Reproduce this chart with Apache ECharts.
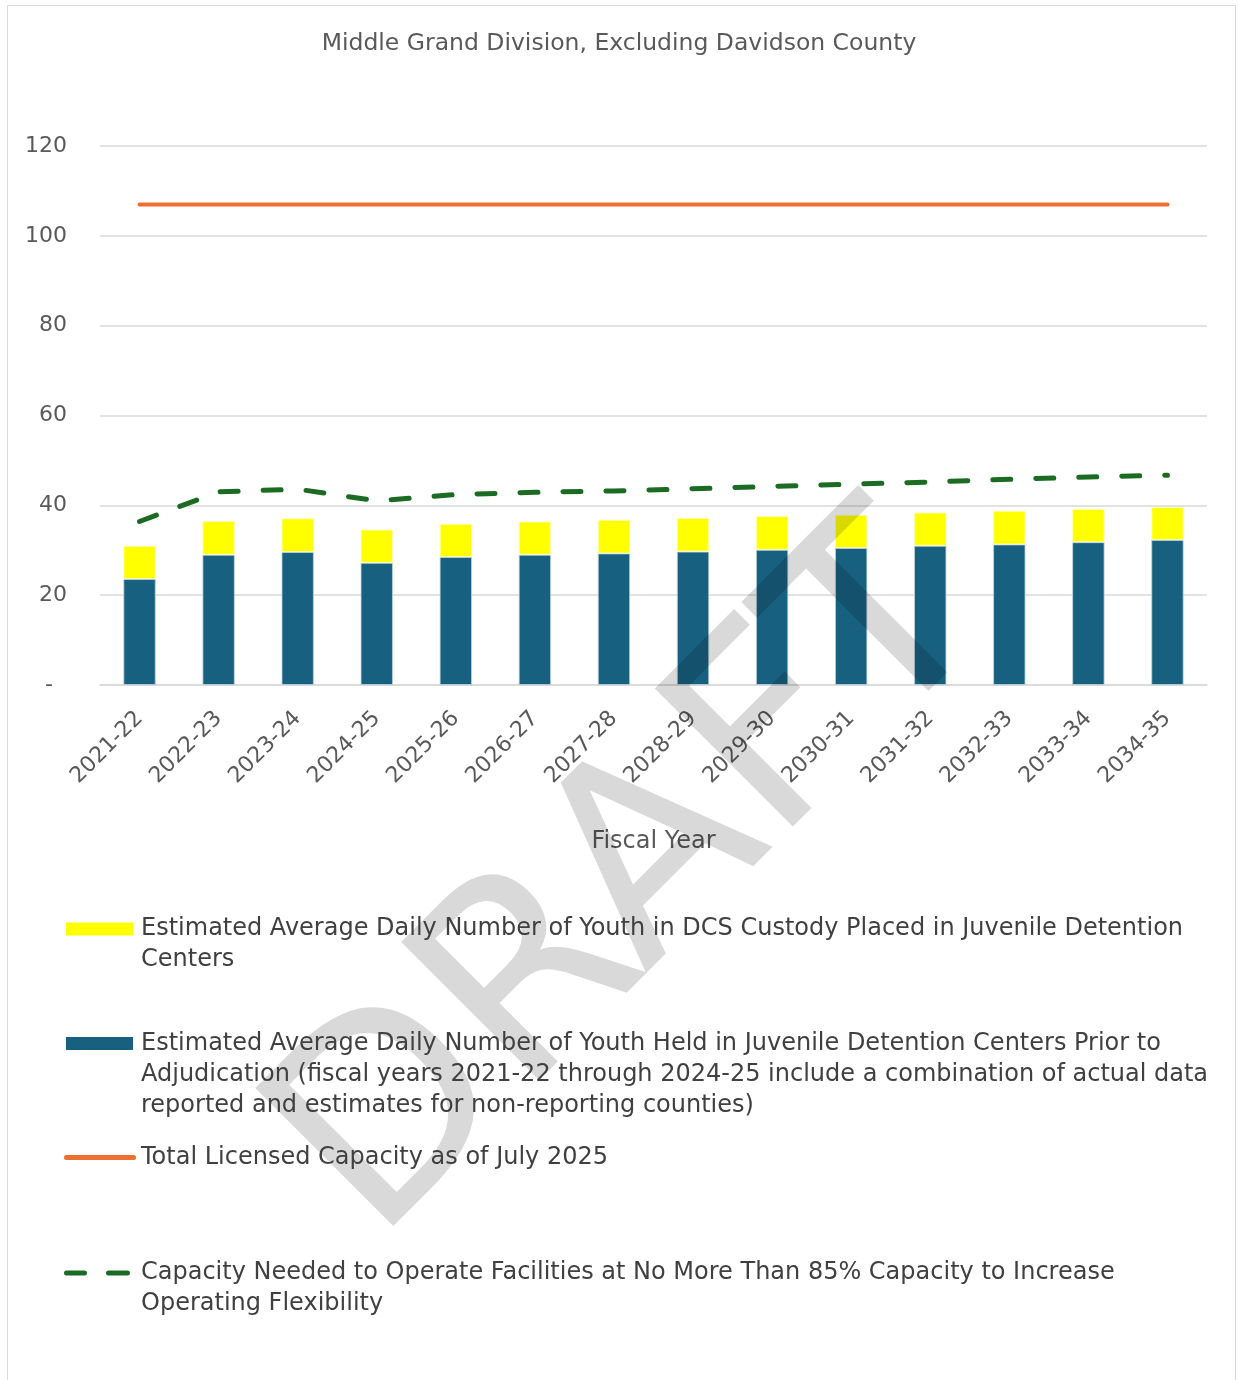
<!DOCTYPE html>
<html>
<head>
<meta charset="utf-8">
<script src="https://cdn.jsdelivr.net/npm/echarts@6/dist/echarts.min.js"></script>
<style>
  html, body { margin: 0; padding: 0; background: #fff; }
  #frame { position: absolute; left: 7px; top: 5px; width: 1229px; height: 1380px; border: 1px solid #d9d9d9; box-sizing: border-box; }
  #chart { position: absolute; left: 0; top: 0; width: 1238px; height: 1380px; }
</style>
</head>
<body>
<div id="frame"></div>
<div id="chart"></div>
<script>
const titleText = 'Middle Grand Division, Excluding Davidson County';
const categories = ['2021-22','2022-23','2023-24','2024-25','2025-26','2026-27','2027-28','2028-29','2029-30','2030-31','2031-32','2032-33','2033-34','2034-35'];
const preAdjudication = [23.6, 29.0, 29.6, 27.2, 28.5, 29.0, 29.3, 29.7, 30.1, 30.5, 31.0, 31.3, 31.8, 32.3];
const dcsCustody = [7.4, 7.5, 7.5, 7.4, 7.4, 7.4, 7.5, 7.5, 7.5, 7.4, 7.4, 7.5, 7.4, 7.3];
const licensedCapacity = [107, 107, 107, 107, 107, 107, 107, 107, 107, 107, 107, 107, 107, 107];
const capacityNeeded85 = [36.4, 43.0, 43.6, 41.0, 42.4, 42.9, 43.2, 43.7, 44.2, 44.7, 45.2, 45.8, 46.3, 46.7];
const yTicks = { min: 0, max: 120, interval: 20 };

const nameDCS = 'Estimated Average Daily Number of Youth in DCS Custody Placed in Juvenile Detention\nCenters';
const namePre = 'Estimated Average Daily Number of Youth Held in Juvenile Detention Centers Prior to\nAdjudication (fiscal years 2021-22 through 2024-25 include a combination of actual data\nreported and estimates for non-reporting counties)';
const nameCap = 'Total Licensed Capacity as of July 2025';
const name85 = 'Capacity Needed to Operate Facilities at No More Than 85% Capacity to Increase\nOperating Flexibility';

const FONT = 'DejaVu Sans';
const textColor = '#595959';
const LH = 31;

const dashIcon = 'path://M2.5,0H20.5A2.5,2.5 0 0 1 20.5,5H2.5A2.5,2.5 0 0 1 2.5,0Z' +
  'M44.5,0H63.5A2.5,2.5 0 0 1 63.5,5H44.5A2.5,2.5 0 0 1 44.5,0Z' +
  'M71.95,0H72V5H71.95Z';
const solidIcon = 'path://M2.5,0H69.5A2.5,2.5 0 0 1 69.5,5H2.5A2.5,2.5 0 0 1 2.5,0Z';

function legendAt(name, left, top, lines, w, h, icon, padLeft) {
  return {
    data: [name],
    left: left,
    top: top,
    orient: 'vertical',
    itemWidth: w,
    itemHeight: h,
    itemGap: 0,
    icon: icon,
    selectedMode: false,
    itemStyle: { borderWidth: 0 },
    formatter: function (n) { return '\n'.repeat(lines - 1) + n; },
    textStyle: { fontFamily: FONT, fontSize: 24, color: '#404040', lineHeight: LH, padding: [0, 0, 0, padLeft] }
  };
}

const chart = echarts.init(document.getElementById('chart'), null, { renderer: 'canvas' });
chart.setOption({
  animation: false,
  backgroundColor: 'transparent',
  title: {
    text: titleText, left: 'center', top: 27,
    textStyle: { fontFamily: FONT, fontSize: 23.5, fontWeight: 'normal', color: textColor }
  },
  grid: { left: 100, right: 31, top: 146, bottom: 695 },
  legend: [
    legendAt(nameDCS, 61, 912 - LH / 2 - 19, 2, 67, 13, 'rect', 3),
    legendAt(namePre, 61, 1027 - LH - 35, 3, 67, 13, 'rect', 3),
    legendAt(nameCap, 59, 1137, 1, 72, 5, solidIcon, 0),
    legendAt(name85, 59, 1256 - LH / 2 - 19, 2, 72, 5, dashIcon, 0)
  ],
  xAxis: {
    type: 'category',
    data: categories,
    name: 'Fiscal Year',
    nameLocation: 'middle',
    nameGap: 145,
    nameTextStyle: { fontFamily: FONT, fontSize: 24, color: textColor },
    axisLine: { lineStyle: { color: '#d9d9d9', width: 1.5 } },
    axisTick: { show: false },
    axisLabel: { rotate: 45, margin: 30, fontFamily: FONT, fontSize: 22, color: textColor, interval: 0 }
  },
  yAxis: {
    type: 'value',
    min: yTicks.min, max: yTicks.max, interval: yTicks.interval,
    axisLine: { show: false },
    axisTick: { show: false },
    splitLine: { lineStyle: { color: '#d9d9d9', width: 1.5 } },
    axisLabel: {
      margin: 33, fontFamily: FONT, fontSize: 22, color: textColor,
      formatter: function (v) { return v === 0 ? '-  ' : String(v); }
    }
  },
  series: [
    {
      name: namePre, type: 'bar', stack: 'total', data: preAdjudication, barWidth: '41%',
      itemStyle: { color: '#17607f', borderColor: 'rgba(190,210,220,0.8)', borderWidth: 1 }
    },
    {
      name: nameDCS, type: 'bar', stack: 'total', data: dcsCustody, barWidth: '41%',
      itemStyle: { color: '#ffff00', borderColor: 'rgba(255,255,180,0.9)', borderWidth: 1 }
    },
    {
      name: nameCap, type: 'line', data: licensedCapacity, symbol: 'none', showSymbol: false,
      lineStyle: { color: '#ed7031', width: 4, cap: 'round' },
      itemStyle: { color: '#ed7031' }
    },
    {
      name: name85, type: 'line', data: capacityNeeded85, symbol: 'none', showSymbol: false,
      lineStyle: { color: '#1b6b23', width: 5, type: [18, 25], cap: 'round' },
      itemStyle: { color: '#1b6b23' }
    }
  ],
  graphic: [
    {
      type: 'text', z: 3, silent: true,
      x: 636, y: 885, rotation: Math.PI / 4,
      style: {
        text: 'DRAFT', fontFamily: FONT, fontSize: 268, fill: 'rgba(0,0,0,0.15)',
        align: 'center', verticalAlign: 'middle'
      }
    }
  ]
});
</script>
</body>
</html>
